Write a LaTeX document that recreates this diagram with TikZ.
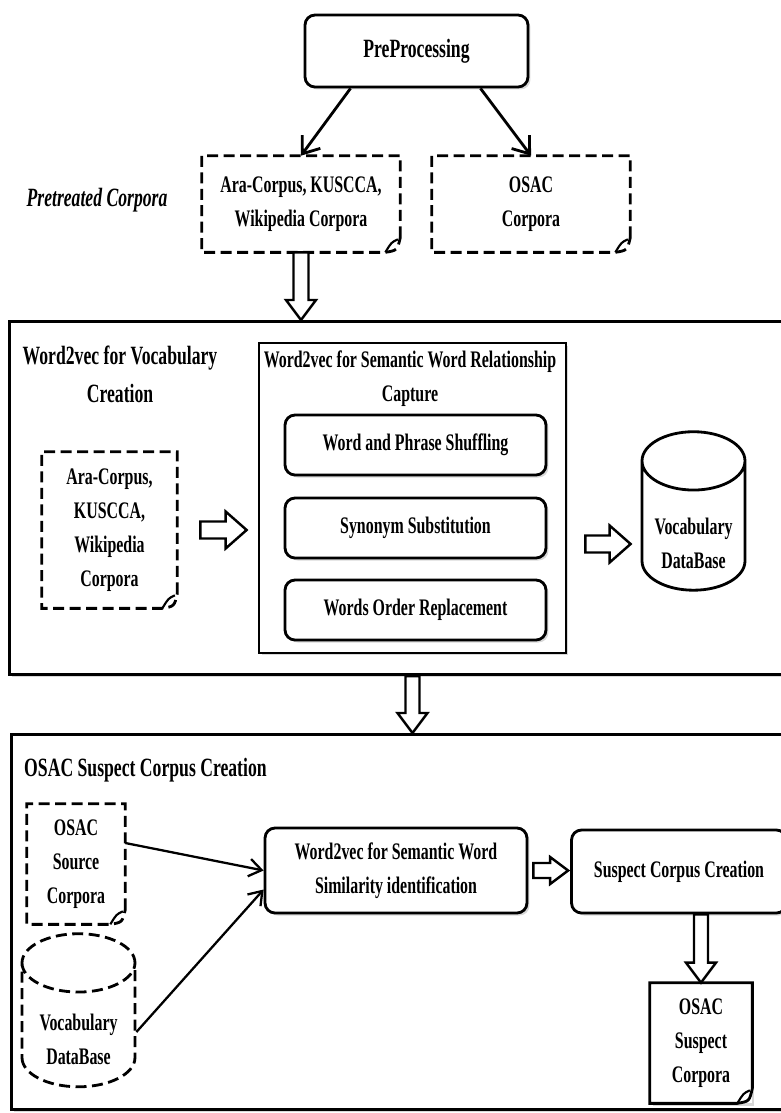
\documentclass[tikz,border=0pt]{standalone}
\usepackage{fontspec}
\setmainfont{Liberation Serif}[FakeStretch=0.67]
\usepackage{tikz}
\usetikzlibrary{calc,positioning,arrows.meta,shapes.geometric,shadows}
\newcommand\bodyfont{\bfseries\fontsize{13.5}{19.4}\selectfont}
\newcommand\titlefont{\bfseries\fontsize{15}{21.5}\selectfont}
\tikzstyle{line} = [line width=1.6pt]
\tikzstyle{line>} = [line,-{Straight Barb[length=3mm,width=4.5mm]}]
\tikzstyle{thin line>} = [line width=1.3pt,-{Straight Barb[length=2.5mm,width=3.5mm]}]
\tikzstyle{soft shadow} = [drop shadow={shadow xshift=0.05cm,shadow yshift=-0.05cm,opacity=0.3}]
\tikzstyle{frame node}=[draw,line width=1.8pt,fill=white,soft shadow,anchor=north west]
\tikzstyle{proc node}=[draw,line,rounded corners=0.2cm,fill=white,soft shadow,align=center,font=\bodyfont]
\tikzstyle{corpus node}=[align=center,font=\bodyfont]
\tikzstyle{db node}=[cylinder,shape border rotate=90,shape aspect=0.65,draw,line,fill=white,align=center,font=\bodyfont]
\tikzstyle{dash line}=[line,dash pattern=on 0.22cm off 0.11cm]
\tikzstyle{hollow}=[line width=1.4pt,fill=white,line join=miter]
% page-like outline with a curled bottom-right corner
\newcommand\docborder[2][]{%
  \draw[line,#1] ([yshift=0.3cm]#2.south east) -- (#2.north east) -- (#2.north west)
    -- (#2.south west) -- ([xshift=-0.3cm]#2.south east)
    .. controls ([xshift=-0.06cm,yshift=0.04cm]#2.south east) .. ([yshift=0.3cm]#2.south east);
  \draw[line width=1.2pt] ([xshift=-0.3cm]#2.south east) .. controls ([xshift=-0.18cm,yshift=0.2cm]#2.south east) .. ([xshift=-0.05cm,yshift=0.26cm]#2.south east);}
% block arrow: tail, tip, half shaft, half head, head length
\newcommand\hollowarrow[5]{%
  \coordinate (ha) at #1; \coordinate (hb) at #2;
  \coordinate (hc) at ($(hb)!#5!(ha)$);
  \draw[hollow] ($(ha)!#3!90:(hb)$) -- ($(hc)!#3!90:(hb)$) -- ($(hc)!#4!90:(hb)$) -- (hb)
    -- ($(hc)!#4!-90:(hb)$) -- ($(hc)!#3!-90:(hb)$) -- ($(ha)!#3!-90:(hb)$) -- cycle;}

\begin{document}
\begin{tikzpicture}[x=0.02cm,y=-0.02cm]
        \useasboundingbox (0,0) rectangle (781,1113);
        \clip (0,0) rectangle (781,1113);

        % top part
        \node[proc node,minimum width=4.46cm,minimum height=1.44cm,font=\titlefont] (pre) at (416.5,51) {PreProcessing};
        \node[corpus node,minimum width=3.96cm,minimum height=1.92cm] (ara1) at (301,204) {Ara-Corpus, KUSCCA,\\Wikipedia Corpora};
        \node[corpus node,minimum width=3.96cm,minimum height=1.92cm] (osac1) at (531,204) {OSAC\\Corpora};
        \node[font=\bfseries\itshape\fontsize{15}{18}\selectfont] (pretreated) at (97,200) {Pretreated Corpora};
        \docborder[dash line]{ara1}
        \docborder[dash line]{osac1}

        \draw[line>] ([xshift=-1.32cm]pre.south) -- (ara1.north);
        \draw[line>] ([xshift=1.28cm]pre.south) -- (osac1.north);

        % vocabulary frame
        \node[frame node,minimum width=15.7cm,minimum height=7.06cm] (vframe) at (8,320) {};
        \node[font=\titlefont,align=center] (vtitle) at (120,374) {Word2vec for Vocabulary\\Creation};
        \node[draw,line,fill=white,soft shadow,minimum width=6.14cm,minimum height=6.2cm] (wbox) at (412.5,498) {};
        \node[font=\bodyfont,align=center] (wtitle) at (410,379) {Word2vec for Semantic Word Relationship\\Capture};
        \node[proc node,minimum width=5.22cm,minimum height=1.2cm] (shuffle) at (415.5,445) {Word and Phrase Shuffling};
        \node[proc node,minimum width=5.22cm,minimum height=1.2cm] (synonym) at (415.5,528) {Synonym Substitution};
        \node[proc node,minimum width=5.22cm,minimum height=1.2cm] (order) at (415.5,610) {Words Order Replacement};
        \node[corpus node,minimum width=2.7cm,minimum height=3.12cm] (ara2) at (109.5,530) {Ara-Corpus,\\KUSCCA,\\Wikipedia\\Corpora};
        \docborder[dash line]{ara2}
        \node[db node,minimum width=2.06cm,minimum height=2.85cm] (vdb) at (693.5,533) {\mbox{}\\[0.06cm]Vocabulary\\DataBase};

        \hollowarrow{(ara1.south)}{(ara1.south |- vframe.north)}{0.15cm}{0.3cm}{0.4cm}
        \hollowarrow{([xshift=0.46cm]ara2.east)}{([xshift=-0.22cm]wbox.west |- ara2.east)}{0.17cm}{0.37cm}{0.42cm}
        \coordinate (vdbin) at ([xshift=0.36cm,yshift=-0.22cm]wbox.east |- vdb.center);
        \hollowarrow{(vdbin)}{([xshift=-0.2cm]vdbin -| vdb.west)}{0.17cm}{0.37cm}{0.42cm}

        % suspect corpus frame
        \node[frame node,minimum width=15.7cm,minimum height=7.5cm] (sframe) at (10,733) {};
        \hollowarrow{(wbox.south |- vframe.south)}{(wbox.south |- sframe.north)}{0.14cm}{0.3cm}{0.4cm}
        \node[font=\titlefont,anchor=west] (stitle) at (18,770) {OSAC Suspect Corpus Creation};
        \node[corpus node,minimum width=1.96cm,minimum height=2.4cm] (src) at (76,864) {OSAC\\Source\\Corpora};
        \docborder[dash line]{src}
        \node[db node,dash line,minimum width=2.26cm,minimum height=2.45cm] (vdb2) at (78.5,1032) {\mbox{}\\[-0.06cm]Vocabulary\\DataBase};
        \node[proc node,minimum width=5.24cm,minimum height=1.7cm] (sim) at (396,870.5) {Word2vec for Semantic Word\\Similarity identification};
        \node[proc node,minimum width=4.3cm,minimum height=1.66cm] (suspect) at (679,871.5) {Suspect Corpus Creation};
        \node[corpus node,fill=white,soft shadow,minimum width=2.04cm,minimum height=2.4cm] (out) at (701,1043) {OSAC\\Suspect\\Corpora};
        \docborder{out}

        \draw[thin line>] ([yshift=0.42cm]src.east) -- (sim.west);
        \draw[thin line>] (vdb2.east) -- ([yshift=-0.38cm]sim.west);
        \hollowarrow{([xshift=0.1cm]sim.east)}{([xshift=-0.04cm]suspect.west |- sim.east)}{0.15cm}{0.27cm}{0.36cm}
        \hollowarrow{(out.north |- suspect.south)}{(out.north)}{0.14cm}{0.3cm}{0.4cm}

    \end{tikzpicture}
\end{document}
